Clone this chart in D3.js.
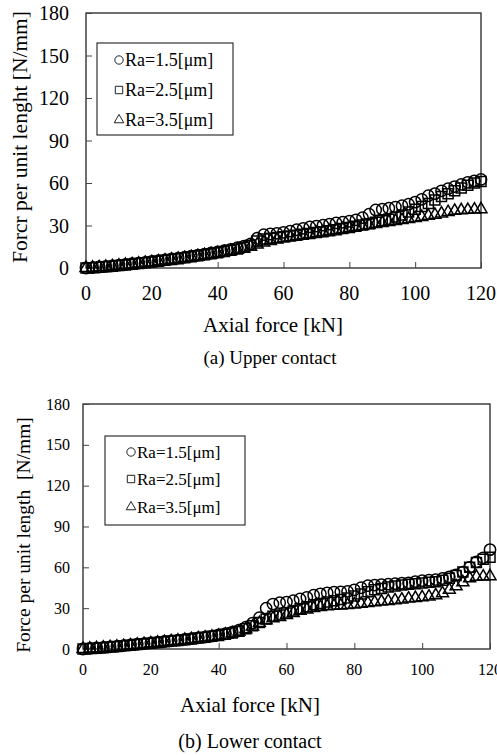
<!doctype html>
<html>
<head>
<meta charset="utf-8">
<style>
    body { margin: 0; background: #fff; }
    text { font-family: "Liberation Serif", "Times New Roman", serif; fill: #000; }
</style>
</head>
<body>
<div id="chart"></div>
<script src="https://d3js.org/d3.v7.min.js"></script>
<script>
// axial force samples [kN]
var force = [0,2,4,6,8,10,12,14,16,18,20,22,24,26,28,30,32,34,36,38,40,42,44,46,48,50,52,54,56,58,
             60,62,64,66,68,70,72,74,76,78,80,82,84,86,88,90,92,94,96,98,100,102,104,106,108,110,112,114,116,118,120];

var seriesNames = ["Ra=1.5[\u03bcm]", "Ra=2.5[\u03bcm]", "Ra=3.5[\u03bcm]"];
var xTicks = [0, 20, 40, 60, 80, 100, 120];
var yTicks = [0, 30, 60, 90, 120, 150, 180];

// (a) upper contact, force per unit length [N/mm]
var upperRa15 = [0,0.3,0.7,1.1,1.5,2,2.5,3,3.5,4,4.6,5.2,5.8,6.4,7,7.7,8.4,9.1,9.8,10.6,11.4,12.2,13.2,14.3,15.5,17,21,23.5,24,24.5,
                 25.2,26,27,28,29,29.6,30.2,31,31.8,32.3,33,34,35.5,38,41,41.5,42.2,43,44,45,46.5,48.5,51,52.5,54.5,56,57.5,59,60.5,61.5,62.5];
var upperRa25 = [0,0.2,0.5,0.9,1.3,1.8,2.2,2.7,3.2,3.7,4.2,4.8,5.4,6,6.6,7.2,7.9,8.6,9.3,10,10.8,11.6,12.5,13.5,14.6,16,19,20.5,21,21.5,
                 22,22.6,23.2,23.8,24.4,25,25.6,26.3,27,27.8,28.6,29.5,30.4,31.3,32.3,33.3,34.5,36,37.5,39.5,41.5,43.5,45.5,48,50.5,52.5,54.5,56.5,58.5,60,61];
var upperRa35 = [0,0.2,0.5,0.8,1.2,1.6,2.1,2.6,3.1,3.6,4.1,4.6,5.2,5.8,6.4,7,7.6,8.3,9,9.7,10.4,11.2,12,12.9,13.8,15,16.5,18,19,20,
                 21,21.8,22.5,23.2,23.9,24.6,25.3,26,26.8,27.5,28.2,29,29.7,30.4,31.1,31.8,32.5,33.2,33.8,34.5,35.2,36,36.8,37.6,38.5,39.5,40.3,40.8,41,41.2,41.5];

// (b) lower contact
var lowerRa15 = [0,0.4,0.8,1.2,1.6,2,2.5,3,3.5,4,4.5,5,5.5,6,6.5,7,7.6,8.2,8.8,9.5,10.3,11.2,12.3,13.8,16,19,23,30,33,34,
                 34.5,35.5,36.8,38,39.5,40.5,41.3,41.8,42,42.3,43.5,45,46.5,47,47.3,47.6,48,48.3,48.6,49.5,50.2,50.5,51,51.8,53,54.5,56.5,60,64,67,73];
var lowerRa25 = [0,0.3,0.6,1,1.4,1.8,2.3,2.8,3.3,3.8,4.3,4.8,5.3,5.8,6.3,6.8,7.4,8,8.6,9.3,10,10.8,11.8,13,14.8,17,19.5,22,24,25,
                 26.5,28,29.5,31,32.5,33.5,34.5,35.5,36.3,37.5,39,40.5,42,43.5,44.5,45.5,46.3,47,47.5,48,48.5,49,49.5,50.5,52,54,56.5,60,63.5,66,67.5];
var lowerRa35 = [0,0.3,0.6,0.9,1.3,1.7,2.1,2.6,3.1,3.6,4.1,4.6,5.1,5.6,6.1,6.6,7.2,7.8,8.4,9,9.7,10.5,11.5,12.8,14.5,16.5,19,21,22.5,23.5,
                 25,26.5,28,29,30,30.8,31.3,31.7,32,32.3,32.7,33.2,33.8,34.3,34.8,35.2,35.7,36.3,37,37.5,38,38.5,39.5,41,43.5,46,49,52,53,53.2,53.5];

var svg = d3.select("#chart").append("svg")
    .attr("width", 497)
    .attr("height", 755);

var symTypes = [d3.symbolCircle, d3.symbolSquare, d3.symbolTriangle];
var symSizes = [100, 100, 62];
var serif = "'Liberation Serif', 'Times New Roman', serif";

function drawPanel(p) {
    var x = d3.scaleLinear().domain([0, 120]).range([p.left, p.right]);
    var y = d3.scaleLinear().domain([0, 180]).range([p.bottom, p.top]);
    var g = svg.append("g").attr("font-family", serif);

    // frame
    g.append("rect")
        .attr("x", p.left).attr("y", p.top)
        .attr("width", p.right - p.left).attr("height", p.bottom - p.top)
        .attr("fill", "none").attr("stroke", "#333").attr("stroke-width", 1.4);

    // axes with inward ticks
    var xa = g.append("g")
        .attr("transform", "translate(0," + p.bottom + ")")
        .call(d3.axisTop(x).tickValues(xTicks).tickSize(6).tickFormat(""));
    xa.select(".domain").remove();
    xa.selectAll("line").attr("stroke", "#444");
    var ya = g.append("g")
        .attr("transform", "translate(" + p.left + ",0)")
        .call(d3.axisRight(y).tickValues(yTicks).tickSize(6).tickFormat(""));
    ya.select(".domain").remove();
    ya.selectAll("line").attr("stroke", "#444");

    g.selectAll(".xl").data(xTicks).enter().append("text")
        .attr("x", function(d) { return x(d); })
        .attr("y", p.xLabelY)
        .attr("text-anchor", "middle")
        .attr("font-size", p.tickFont + "px")
        .text(function(d) { return d; });
    g.selectAll(".yl").data(yTicks).enter().append("text")
        .attr("x", p.yLabelX)
        .attr("y", function(d) { return y(d); })
        .attr("dy", "0.35em")
        .attr("text-anchor", "end")
        .attr("font-size", p.tickFont + "px")
        .text(function(d) { return d; });

    // data markers
    p.series.forEach(function(vals, i) {
        g.selectAll(".m" + i).data(vals).enter().append("path")
            .attr("d", d3.symbol().type(symTypes[i]).size(symSizes[i]))
            .attr("transform", function(d, j) { return "translate(" + x(force[j]) + "," + y(d) + ")"; })
            .attr("fill", "none")
            .attr("stroke", "#000")
            .attr("stroke-width", 1.5);
    });

    // legend
    g.append("rect")
        .attr("x", p.leg[0]).attr("y", p.leg[1])
        .attr("width", p.leg[2]).attr("height", p.leg[3])
        .attr("fill", "#fff").attr("stroke", "#333").attr("stroke-width", 1.2);
    seriesNames.forEach(function(name, i) {
        var cy = p.legRows[i];
        g.append("path")
            .attr("d", d3.symbol().type(symTypes[i]).size([55, 55, 40][i]))
            .attr("transform", "translate(" + p.legMarkX + "," + cy + ")")
            .attr("fill", "none").attr("stroke", "#222").attr("stroke-width", 1);
        g.append("text")
            .attr("x", p.legMarkX + 6)
            .attr("y", cy)
            .attr("dy", "0.35em")
            .attr("font-size", p.legFont + "px")
            .text(name);
    });

    // titles
    g.append("text")
        .attr("x", p.xTitleX)
        .attr("y", p.xTitleY)
        .attr("text-anchor", "middle")
        .attr("font-size", "21px")
        .text("Axial force [kN]");
    g.append("text")
        .attr("transform", "translate(" + p.yTitleX + "," + p.yTitleY + ") rotate(-90)")
        .attr("text-anchor", "middle")
        .attr("font-size", p.yTitleFont + "px")
        .attr("xml:space", "preserve")
        .text(p.yTitle);
    g.append("text")
        .attr("x", p.capX)
        .attr("y", p.capY)
        .attr("text-anchor", "middle")
        .attr("font-size", p.capFont + "px")
        .text(p.caption);
}

drawPanel({
    left: 86, right: 481, top: 13, bottom: 268,
    tickFont: 20, xLabelY: 300, yLabelX: 69,
    series: [upperRa15, upperRa25, upperRa35],
    leg: [97, 43, 136, 92], legRows: [60, 90, 120], legMarkX: 119, legFont: 18,
    xTitleX: 273, xTitleY: 332, yTitleX: 27, yTitleY: 137, yTitleFont: 21.5,
    yTitle: "Forcr per unit lenght [N/mm]",
    capX: 270, capY: 364, capFont: 19, caption: "(a) Upper contact"
});

drawPanel({
    left: 83, right: 490, top: 404, bottom: 649,
    tickFont: 16, xLabelY: 675, yLabelX: 70,
    series: [lowerRa15, lowerRa25, lowerRa35],
    leg: [105, 436, 140, 89], legRows: [452, 479, 507], legMarkX: 131, legFont: 17,
    xTitleX: 250, xTitleY: 712, yTitleX: 30, yTitleY: 535, yTitleFont: 19.5,
    yTitle: "Force per unit length  [N/mm]",
    capX: 250, capY: 748, capFont: 20, caption: "(b) Lower contact"
});
</script>
</body>
</html>
